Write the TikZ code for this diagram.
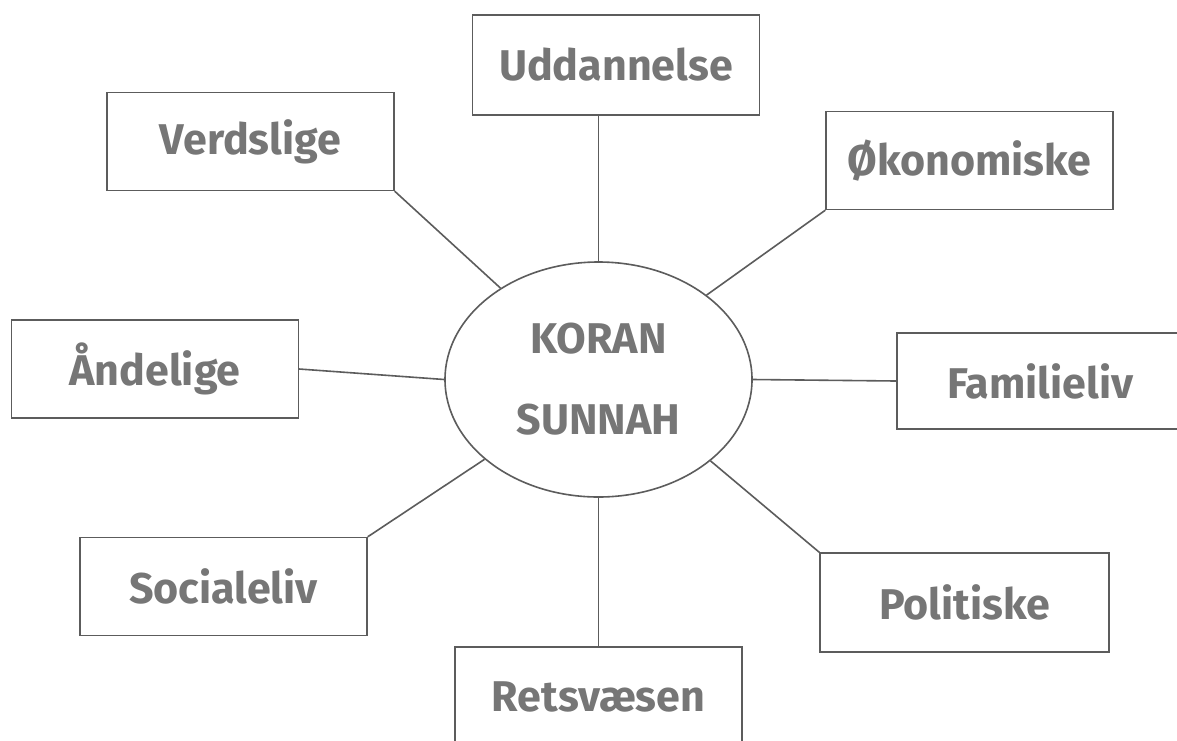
\documentclass[tikz,border=0pt]{standalone}
\usepackage{fontspec}
\setmainfont{Fira Sans}
\usetikzlibrary{shapes.geometric}
\definecolor{txtgray}{HTML}{767676}
\definecolor{linegray}{HTML}{5C5C5C}
\tikzset{
  topic/.style={draw=linegray, line width=1.4pt, rectangle, minimum width=287pt, minimum height=98pt, inner sep=0pt,
    text=txtgray, font=\fontsize{43}{50}\selectfont\bfseries},
  hub/.style={draw=linegray, line width=1.6pt, ellipse, minimum width=307pt, minimum height=235pt, inner sep=0pt,
    text=txtgray, align=center, font=\fontsize{43}{81}\selectfont\bfseries},
  link/.style={draw=linegray, line width=1.6pt}
}
\begin{document}
\begin{tikzpicture}[x=1pt,y=-1pt]
\useasboundingbox[fill=white] (0,0) rectangle (1177,740);
\node[hub] (ell) at (598.5,379.5) {KORAN\hspace{22pt}\\SUNNAH};
\node[topic, minimum height=100pt] (udd) at (616,65) {Uddannelse};
\node[topic] (verd) at (250.5,141.5) {Verdslige};
\node[topic] (oko) at (969.5,160.5) {Økonomiske};
\node[topic] (and) at (155,369) {Åndelige\hspace{18pt}};
\node[topic, minimum height=96pt] (fam) at (1040.5,381) {Familieliv};
\node[topic] (soc) at (223.5,586.5) {Socialeliv};
\node[topic, minimum width=289pt, minimum height=99pt] (pol) at (964.5,602.5) {Politiske};
\node[topic, minimum height=100pt] (ret) at (598.5,697) {Retsvæsen};
\draw[link] (udd.south -| ell.north) -- (ell.north);
\draw[link] (ell.south) -- (ell.south |- ret.north);
\draw[link] (verd.south east) -- (ell.137);
\draw[link] (oko.south west) -- (ell.38);
\draw[link] (and.east) -- (ell.west);
\draw[link] (ell.east) -- (fam.west);
\draw[link] (soc.north east) -- (ell.215);
\draw[link] (pol.north west) -- (ell.324);
\end{tikzpicture}
\end{document}
